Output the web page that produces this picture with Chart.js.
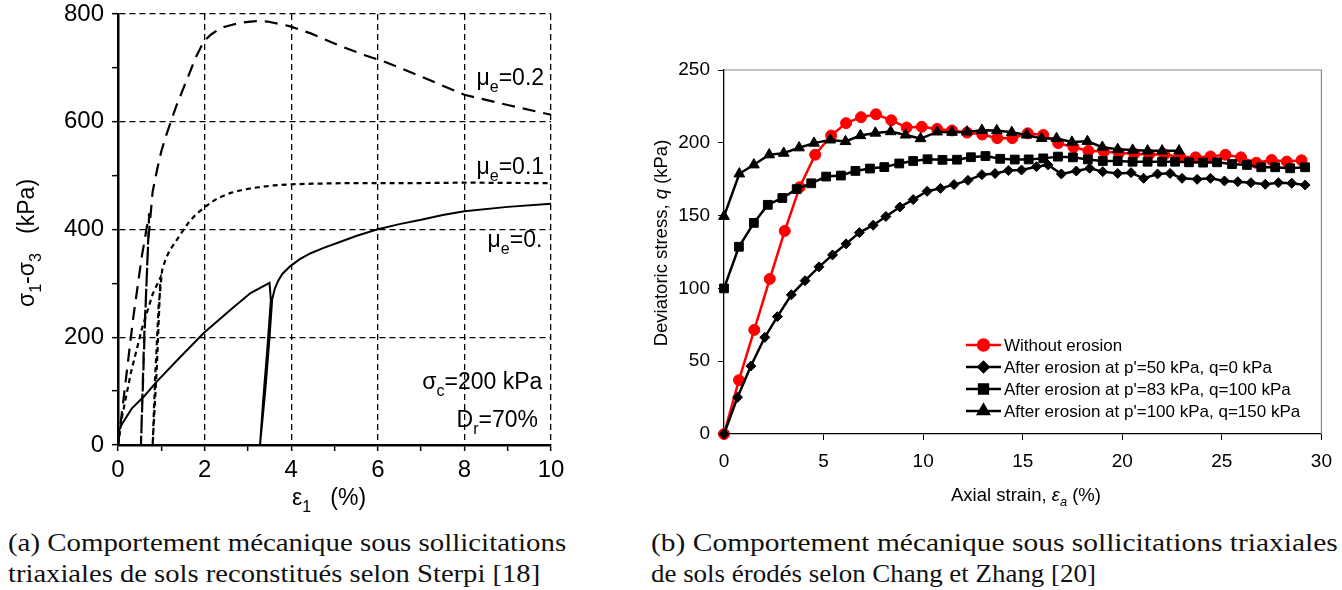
<!DOCTYPE html>
<html lang="fr">
<head>
<meta charset="UTF-8">
<title>Comportement mécanique sous sollicitations triaxiales</title>
<script src="https://cdn.jsdelivr.net/npm/chart.js"></script>
<style>
  body { margin: 0; width: 1342px; height: 590px; background: #fff; position: relative; overflow: hidden; }
  #left { position: absolute; left: 0; top: -20px; }
  #right { position: absolute; left: 640px; top: 0; }
  .caption { position: absolute; font-family: "Liberation Serif", serif; font-size: 25px; line-height: 31px; color: #111; white-space: nowrap; }
  .caption span { display: block; transform-origin: 0 50%; width: max-content; }
</style>
</head>
<body>
<canvas id="left" width="600" height="540"></canvas>
<canvas id="right" width="702" height="520"></canvas>

<div class="caption" style="left:8px; top:527px;">
  <span data-w="558">(a) Comportement mécanique sous sollicitations</span>
  <span data-w="532">triaxiales de sols reconstitués selon Sterpi [18]</span>
</div>
<div class="caption" style="left:651px; top:527px;">
  <span data-w="687">(b) Comportement mécanique sous sollicitations triaxiales</span>
  <span data-w="445">de sols érodés selon Chang et Zhang [20]</span>
</div>

<script>
// --- (a) Sterpi : déviateur en fonction de la déformation axiale
const mu02X = [0, 0.15, 0.35, 0.55, 0.72, 0.62, 0.53, 0.6, 0.7, 0.8, 0.9, 1.0, 1.1, 1.22, 1.35, 1.5, 1.68, 1.8, 1.98, 2.15, 2.3, 2.45, 2.64, 2.85, 3.06, 3.25, 3.45, 3.7, 3.98, 4.45, 5.06, 5.68, 6.14, 7, 8, 9, 10];
const mu02Y = [0, 100, 235, 350, 430, 220, 0, 190, 380, 470, 510, 545, 572, 600, 630, 660, 696, 720, 749, 762, 770, 776, 780, 784, 786, 787, 786, 782, 777, 764, 743, 724, 712, 684, 650, 631, 613];
const mu01X = [0, 0.1, 0.3, 0.55, 0.8, 0.98, 0.9, 0.8, 0.86, 0.94, 1.02, 1.1, 1.2, 1.37, 1.5, 1.65, 1.8, 1.98, 2.15, 2.3, 2.6, 2.9, 3.2, 3.6, 4, 4.5, 5.2, 6.75, 8, 10];
const mu01Y = [0, 55, 135, 215, 280, 311, 150, 0, 130, 260, 325, 345, 362, 382, 398, 415, 428, 440, 450, 458, 468, 474, 478, 482, 484, 485, 486, 486, 487, 486];
const mu0X = [0, 0.03, 0.1, 0.32, 0.6, 0.9, 1.4, 1.98, 2.6, 3.06, 3.5, 3.53, 3.45, 3.35, 3.28, 3.4, 3.5, 3.56, 3.62, 3.7, 3.8, 3.98, 4.2, 4.45, 4.75, 5.06, 5.5, 5.98, 6.5, 7, 7.5, 8, 9, 10];
const mu0Y = [0, 28, 40, 68, 90, 118, 160, 208, 251, 282, 301, 269, 180, 80, 0, 100, 200, 270, 290, 305, 318, 332, 345, 356, 366, 375, 388, 400, 410, 418, 427, 434, 442, 448];

// --- (b) Chang et Zhang : q (kPa) en fonction de ea (%)
const woX = [0, 0.75, 1.52, 2.3, 3.05, 3.8, 4.58, 5.38, 6.13, 6.88, 7.63, 8.4, 9.17, 9.93, 10.7, 11.45, 12.2, 12.97, 13.72, 14.48, 15.25, 16.03, 16.78, 17.55, 18.3, 19.07, 19.83, 20.6, 21.35, 22.12, 22.9, 23.68, 24.43, 25.18, 25.96, 26.73, 27.5, 28.26, 29.0];
const woY = [0, 37, 71.5, 106.5, 139.5, 169.5, 191.8, 205, 213.5, 217.6, 219.6, 215.5, 210.5, 211, 209.5, 208.5, 207, 205.7, 203.2, 203.2, 206.5, 205.4, 199.8, 197, 194.5, 194, 193, 192.5, 192, 192, 190.5, 190, 190.6, 191.8, 190, 186.3, 188.2, 187.1, 188];
const p50X = [0, 0.68, 1.35, 2.05, 2.68, 3.38, 4.07, 4.77, 5.45, 6.13, 6.8, 7.49, 8.13, 8.83, 9.5, 10.2, 10.87, 11.55, 12.25, 12.95, 13.61, 14.28, 14.94, 15.69, 16.27, 16.94, 17.69, 18.36, 19.02, 19.77, 20.44, 21.07, 21.77, 22.4, 23.0, 23.76, 24.43, 25.13, 25.8, 26.46, 27.18, 27.84, 28.51, 29.18];
const p50Y = [0, 25.2, 46.7, 66.4, 80.6, 95.6, 105.3, 114.8, 123, 130.6, 138.3, 143.4, 149.4, 155.9, 161, 166.7, 168.7, 171.3, 174.2, 178.1, 178.9, 181, 181.3, 183.6, 184.8, 178.6, 180.6, 182.5, 180.2, 179, 179.5, 175.6, 178.6, 179, 175.6, 174.9, 175.6, 173.8, 173.3, 172.6, 171.5, 172.6, 172.2, 171];
const p83X = [0, 0.75, 1.5, 2.2, 2.93, 3.65, 4.38, 5.13, 5.87, 6.6, 7.33, 8.05, 8.8, 9.5, 10.22, 10.97, 11.7, 12.4, 13.13, 13.87, 14.6, 15.3, 16.03, 16.77, 17.52, 18.27, 19.02, 19.77, 20.52, 21.27, 22.0, 22.65, 23.35, 24.06, 24.76, 25.51, 26.26, 26.98, 27.68, 28.43, 29.18];
const p83Y = [100, 128.6, 145, 157.4, 162.1, 168.2, 172.2, 176.8, 177.5, 180.7, 182.3, 183.3, 185.8, 187.5, 188.7, 188.3, 188.4, 190.1, 190.9, 189, 188.5, 188.6, 189.3, 190.5, 190, 188.6, 187.5, 187.5, 187, 187, 187, 187, 186.6, 186.4, 186.6, 185.4, 184.8, 183.2, 183.2, 182.5, 183.2];
const p100X = [0, 0.77, 1.5, 2.27, 3.0, 3.77, 4.52, 5.33, 6.1, 6.85, 7.6, 8.37, 9.12, 9.87, 10.7, 11.45, 12.2, 12.95, 13.7, 14.45, 15.2, 15.95, 16.7, 17.47, 18.25, 19.0, 19.77, 20.52, 21.27, 22.0, 22.85];
const p100Y = [149.5, 178.7, 184.9, 191.8, 192.9, 196.6, 199.8, 202, 200.9, 205, 206.7, 207.7, 205.4, 202.9, 207.5, 207.3, 207.5, 208.6, 208.4, 207.2, 205.4, 203, 203, 200.5, 201, 197, 195.5, 195, 194.5, 194.5, 194.5];

const seriesLabels = ['Without erosion', "After erosion at p'=50 kPa, q=0 kPa", "After erosion at p'=83 kPa, q=100 kPa", "After erosion at p'=100 kPa, q=150 kPa"];

const SANS = '"Liberation Sans", Arial, sans-serif';

function zip(xs, ys) {
  return xs.map((x, i) => ({ x: x, y: ys[i] }));
}

// texte avec indices / italique, runs = [{t, sub, it}]
function drawRuns(ctx, runs, x, y, size, align, angle) {
  ctx.save();
  ctx.translate(x, y);
  if (angle) ctx.rotate(angle);
  const fontOf = r => (r.it ? 'italic ' : '') + (r.sub ? size * 0.7 : size).toFixed(1) + 'px ' + SANS;
  let total = 0;
  runs.forEach(r => { ctx.font = fontOf(r); r.w = ctx.measureText(r.t).width; total += r.w; });
  let cx = align === 'center' ? -total / 2 : (align === 'right' ? -total : 0);
  ctx.fillStyle = '#000';
  ctx.textBaseline = 'alphabetic';
  runs.forEach(r => {
    ctx.font = fontOf(r);
    ctx.fillText(r.t, cx, size * 0.36 + (r.sub ? size * 0.28 : 0));
    cx += r.w;
  });
  ctx.restore();
}

// ---------------- chart (a)
const leftText = {
  id: 'leftText',
  afterDraw(chart) {
    const ctx = chart.ctx;
    const xs = chart.scales.x, ys = chart.scales.y;
    const at = (vx, vy) => [xs.getPixelForValue(vx), ys.getPixelForValue(vy)];
    let p = at(9.84, 683);
    drawRuns(ctx, [{ t: 'μ' }, { t: 'e', sub: true }, { t: '=0.2' }], p[0], p[1], 23, 'right');
    p = at(9.84, 518);
    drawRuns(ctx, [{ t: 'μ' }, { t: 'e', sub: true }, { t: '=0.1' }], p[0], p[1], 23, 'right');
    p = at(9.8, 382);
    drawRuns(ctx, [{ t: 'μ' }, { t: 'e', sub: true }, { t: '=0.' }], p[0], p[1], 23, 'right');
    p = at(9.8, 119);
    drawRuns(ctx, [{ t: 'σ' }, { t: 'c', sub: true }, { t: '=200 kPa' }], p[0], p[1], 23, 'right');
    p = at(9.7, 48);
    drawRuns(ctx, [{ t: 'D' }, { t: 'r', sub: true }, { t: '=70%' }], p[0], p[1], 23, 'right');
    // titres des axes
    drawRuns(ctx, [{ t: 'ε' }, { t: '1', sub: true }, { t: '   (%)' }], 329, 517, 23, 'center');
    drawRuns(ctx, [{ t: 'σ' }, { t: '1', sub: true }, { t: '-σ' }, { t: '3', sub: true }, { t: '   (kPa)' }], 26, 263, 23, 'center', -Math.PI / 2);
  }
};

const gridDash = [6, 4];
new Chart(document.getElementById('left'), {
  type: 'scatter',
  data: {
    datasets: [
      { label: 'μe=0.2', data: zip(mu02X, mu02Y), showLine: true, borderColor: '#000', borderWidth: 2.2, borderDash: [13, 8], pointRadius: 0, clip: false },
      { label: 'μe=0.1', data: zip(mu01X, mu01Y), showLine: true, borderColor: '#000', borderWidth: 2.2, borderDash: [5, 4], pointRadius: 0, clip: false },
      { label: 'μe=0', data: zip(mu0X, mu0Y), showLine: true, borderColor: '#000', borderWidth: 2, pointRadius: 0, clip: false }
    ]
  },
  options: {
    responsive: false,
    animation: false,
    layout: { padding: { left: 0, top: 34, right: 49, bottom: 0 } },
    plugins: { legend: { display: false }, tooltip: { enabled: false } },
    scales: {
      x: {
        type: 'linear', min: 0, max: 10,
        afterFit: s => { s.height = 75; },
        ticks: {
          stepSize: 1, autoSkip: false, maxRotation: 0, padding: 5, color: '#000',
          font: { family: SANS, size: 24 },
          callback: v => (v % 2 === 0 ? v : '')
        },
        grid: {
          color: c => (c.tick && c.tick.value % 2 === 0 && c.tick.value > 0 ? '#000' : 'rgba(0,0,0,0)'),
          lineWidth: 1.3, tickColor: '#000', tickLength: 6, tickWidth: 1.5
        },
        border: { color: '#000', width: 2.5, dash: gridDash }
      },
      y: {
        min: 0, max: 800,
        afterFit: s => { s.width = 118; },
        ticks: {
          stepSize: 100, autoSkip: false, padding: 8, color: '#000',
          font: { family: SANS, size: 24 },
          callback: v => (v % 200 === 0 ? v : '')
        },
        grid: {
          color: c => (c.tick && c.tick.value % 200 === 0 && c.tick.value > 0 ? '#000' : 'rgba(0,0,0,0)'),
          lineWidth: 1.3, tickColor: '#000', tickLength: 6, tickWidth: 1.5
        },
        border: { color: '#000', width: 2.5, dash: gridDash }
      }
    }
  },
  plugins: [leftText]
});

// ---------------- chart (b)
const rightDecor = {
  id: 'rightDecor',
  beforeDatasetsDraw(chart) {
    const { ctx, chartArea: a } = chart;
    ctx.save();
    ctx.strokeStyle = '#8a8a8a';
    ctx.lineWidth = 1.2;
    ctx.beginPath();
    ctx.moveTo(a.left, a.top);
    ctx.lineTo(a.right, a.top);
    ctx.lineTo(a.right, a.bottom);
    ctx.stroke();
    ctx.restore();
  },
  afterDraw(chart) {
    const ctx = chart.ctx;
    // légende dans la zone de tracé
    const rows = [345, 367, 389, 411];
    chart.data.datasets.forEach((ds, i) => {
      const y = rows[i];
      ctx.save();
      ctx.strokeStyle = ds.borderColor;
      ctx.lineWidth = ds.borderWidth;
      ctx.beginPath();
      ctx.moveTo(326, y);
      ctx.lineTo(361, y);
      ctx.stroke();
      ctx.fillStyle = ds.pointBackgroundColor;
      ctx.strokeStyle = ds.borderColor;
      Chart.helpers.drawPoint(ctx, { pointStyle: ds.pointStyle, radius: ds.pointRadius, rotation: 0, borderWidth: 1 }, 343.5, y);
      ctx.restore();
      ctx.save();
      ctx.fillStyle = '#000';
      ctx.font = '17px ' + SANS;
      ctx.textBaseline = 'middle';
      ctx.fillText(ds.label, 364, y + 1);
      ctx.restore();
    });
    drawRuns(ctx, [{ t: 'Axial strain, ' }, { t: 'ε', it: true }, { t: 'a', sub: true, it: true }, { t: ' (%)' }], 386, 494, 18.5, 'center');
    drawRuns(ctx, [{ t: 'Deviatoric stress, ' }, { t: 'q', it: true }, { t: ' (kPa)' }], 20, 243, 18.5, 'center', -Math.PI / 2);
  }
};

function series(label, xs, ys, color, style, radius, order) {
  return {
    label: label, data: zip(xs, ys), showLine: true, borderColor: color, borderWidth: 2.5,
    pointBackgroundColor: color, pointBorderColor: color, pointBorderWidth: 1,
    pointStyle: style, pointRadius: radius, clip: false, order: order
  };
}

new Chart(document.getElementById('right'), {
  type: 'scatter',
  data: {
    datasets: [
      series(seriesLabels[0], woX, woY, '#ff0000', 'circle', 5.5, 4),
      series(seriesLabels[1], p50X, p50Y, '#000', 'rectRot', 5, 3),
      series(seriesLabels[2], p83X, p83Y, '#000', 'rect', 6.2, 2),
      series(seriesLabels[3], p100X, p100Y, '#000', 'triangle', 6.2, 1)
    ]
  },
  options: {
    responsive: false,
    animation: false,
    layout: { padding: { left: 0, top: 70, right: 17, bottom: 0 } },
    plugins: { legend: { display: false }, tooltip: { enabled: false } },
    scales: {
      x: {
        type: 'linear', min: 0, max: 30,
        afterFit: s => { s.height = 86; },
        ticks: { stepSize: 5, autoSkip: false, maxRotation: 0, padding: 10, color: '#000', font: { family: SANS, size: 19 } },
        grid: { drawOnChartArea: false, tickColor: '#000', tickLength: 6, tickWidth: 1 },
        border: { color: '#000', width: 1.3 }
      },
      y: {
        min: 0, max: 250,
        afterFit: s => { s.width = 84; },
        ticks: { stepSize: 50, autoSkip: false, padding: 8, color: '#000', font: { family: SANS, size: 19 } },
        grid: { drawOnChartArea: false, tickColor: '#000', tickLength: 6, tickWidth: 1 },
        border: { color: '#000', width: 1.3 }
      }
    }
  },
  plugins: [rightDecor]
});

// ajuste la largeur des légendes de figure
document.querySelectorAll('.caption span').forEach(el => {
  const target = +el.dataset.w;
  const w = el.getBoundingClientRect().width;
  if (w > 0) el.style.transform = 'scaleX(' + (target / w).toFixed(3) + ')';
});
</script>
</body>
</html>
